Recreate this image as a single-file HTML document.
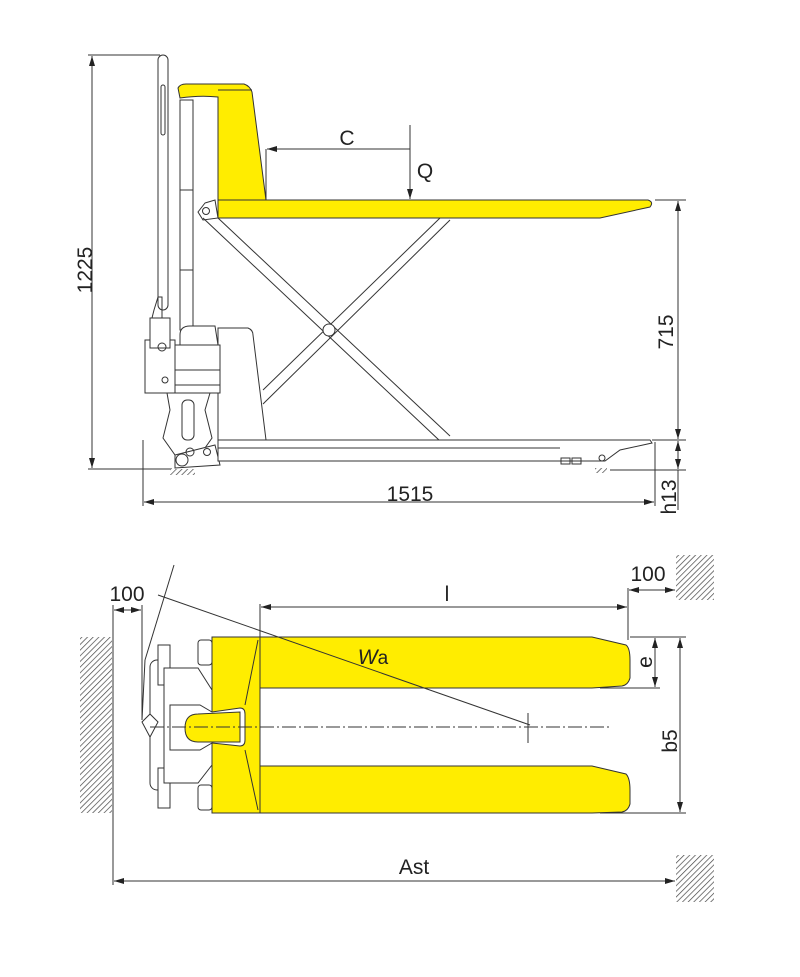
<!DOCTYPE html>
<html><head><meta charset="utf-8"><style>
html,body{margin:0;padding:0;background:#fff;}
svg{display:block;}
text{font-family:"Liberation Sans",sans-serif;fill:#222;}
</style></head><body>
<svg width="800" height="977" viewBox="0 0 800 977" xmlns="http://www.w3.org/2000/svg">
<defs>
<pattern id="h" width="4" height="4" patternUnits="userSpaceOnUse" patternTransform="rotate(45)">
<rect width="4" height="4" fill="#fff"/><line x1="0" y1="0" x2="0" y2="4" stroke="#444" stroke-width="1.4"/></pattern>
<marker id="a" viewBox="0 0 10 6" refX="10" refY="3" markerWidth="10" markerHeight="6" orient="auto-start-reverse" markerUnits="userSpaceOnUse"><path d="M0,0L10,3L0,6z" fill="#222"/></marker>
</defs>
<g stroke="#333" stroke-width="1" fill="none">
<line x1="88" y1="55" x2="160" y2="55"/>
<line x1="88" y1="469" x2="172" y2="469"/>
<line x1="92" y1="56" x2="92" y2="468" marker-start="url(#a)" marker-end="url(#a)"/>
<rect x="158" y="55" width="10" height="255" rx="5"/>
<rect x="161" y="85" width="4" height="50" rx="2"/>
<path d="M154,310 L158,297 L162,297 L162,318 L152,318 Z"/>
<rect x="180" y="100" width="13" height="90"/>
<rect x="180" y="190" width="13" height="80"/>
<rect x="180" y="270" width="13" height="60"/>
<path d="M178,88 Q180,84 186,84 L244,84 Q250,86 252,92 L266,200 L218,200 L218,97 Q200,95 180,98 Z" fill="#ffed00"/>
<line x1="218" y1="90" x2="252" y2="90"/>
<path d="M218,200 L648,200 Q654,202 650,207 L600,218 L218,218 Z" fill="#ffed00"/>
<path d="M205,203 L215,200 L218,218 L203,220 L198,212 Z" fill="#fff"/>
<circle cx="206" cy="211" r="3.5"/>
<line x1="203" y1="218" x2="440" y2="441"/>
<line x1="218" y1="218" x2="450" y2="436"/>
<line x1="263" y1="404" x2="450" y2="220"/>
<line x1="263" y1="390" x2="440" y2="218"/>
<circle cx="329" cy="330" r="6" fill="#fff"/>
<path d="M218,328 L248,328 Q253,330 253,335 L266,440 L218,440 Z" fill="#fff"/>
<path d="M180,335 Q180,326 190,326 L215,326 L218,345 L180,345 Z" fill="#fff"/>
<rect x="175" y="345" width="45" height="48" fill="#fff"/>
<line x1="175" y1="370" x2="220" y2="370"/>
<line x1="175" y1="385" x2="220" y2="385"/>
<rect x="145" y="340" width="30" height="53" fill="#fff"/>
<rect x="150" y="318" width="20" height="30" fill="#fff"/>
<circle cx="162" cy="347" r="4"/>
<circle cx="165" cy="380" r="3"/>
<path d="M167,393 L210,393 L205,410 L212,438 L200,455 L175,455 L163,438 L170,410 Z" fill="#fff"/>
<rect x="182" y="400" width="12" height="40" rx="5"/>
<path d="M175,455 L215,445 L220,465 L175,468 Z" fill="#fff"/>
<circle cx="182" cy="460" r="6" fill="#fff"/>
<circle cx="190" cy="452" r="4"/>
<circle cx="207" cy="452" r="3.5"/>
<rect x="170" y="469" width="25" height="6" fill="url(#h)" stroke="none"/>
<path d="M218,440 L650,440 L652,443 L620,450 L605,461 L218,461 Z" fill="#fff"/>
<line x1="218" y1="448" x2="560" y2="448"/>
<rect x="561" y="458" width="9" height="6"/>
<rect x="572" y="458" width="9" height="6"/>
<circle cx="602" cy="458" r="3"/>
<rect x="595" y="468" width="12" height="5" fill="url(#h)" stroke="none"/>
<line x1="266" y1="149" x2="266" y2="200"/>
<line x1="410" y1="149" x2="267" y2="149" marker-end="url(#a)"/>
<line x1="410" y1="125" x2="410" y2="199" marker-end="url(#a)"/>
<line x1="655" y1="200" x2="686" y2="200"/>
<line x1="652" y1="440" x2="686" y2="440"/>
<line x1="610" y1="470" x2="686" y2="470"/>
<line x1="678" y1="201" x2="678" y2="439" marker-start="url(#a)" marker-end="url(#a)"/>
<line x1="678" y1="441" x2="678" y2="469" marker-start="url(#a)" marker-end="url(#a)"/>
<line x1="678" y1="470" x2="678" y2="510"/>
<line x1="143" y1="440" x2="143" y2="506"/>
<line x1="655" y1="442" x2="655" y2="506"/>
<line x1="144" y1="502" x2="654" y2="502" marker-start="url(#a)" marker-end="url(#a)"/>

<rect x="80" y="637" width="32" height="176" fill="url(#h)" stroke="none"/>
<rect x="676" y="555" width="38" height="45" fill="url(#h)" stroke="none"/>
<rect x="676" y="855" width="38" height="47" fill="url(#h)" stroke="none"/>
<path d="M212,637 L592,637 L626,645 Q630,648 630,660 L630,678 Q628,685 622,686 L592,688 L260,688 L260,766 L592,766 L626,774 Q630,778 630,790 L630,804 Q628,811 622,812 L592,813 L212,813 Z" fill="#ffed00"/>
<line x1="260" y1="637" x2="260" y2="688"/>
<line x1="260" y1="766" x2="260" y2="813"/>
<path d="M258,640 L245,705 M245,750 L258,810"/>
<rect x="150" y="660" width="14" height="130" rx="7" fill="#fff"/>
<rect x="158" y="645" width="12" height="40" fill="#fff"/>
<rect x="158" y="768" width="12" height="40" fill="#fff"/>
<rect x="198" y="640" width="14" height="25" rx="3" fill="#fff"/>
<rect x="198" y="785" width="14" height="25" rx="3" fill="#fff"/>
<path d="M164,668 L198,668 L212,690 L212,765 L198,783 L164,783 Z" fill="#fff"/>
<path d="M170,705 L200,705 L212,712 L240,708 Q245,708 245,714 L245,740 Q245,746 240,746 L212,743 L200,750 L170,750 Z" fill="#fff"/>
<path d="M185,728 Q185,714 198,714 L240,712 L240,742 L198,742 Q185,742 185,728 Z" fill="#ffed00"/>
<path d="M142,722 L150,714 L158,722 L150,737 Z" fill="#fff"/>
<line x1="150" y1="727" x2="612" y2="727" stroke-dasharray="14,3,2,3"/>
<line x1="528" y1="713" x2="528" y2="743"/>
<line x1="158" y1="595" x2="530" y2="725"/>
<line x1="174" y1="565" x2="145" y2="660"/>
<line x1="145" y1="660" x2="142" y2="720"/>
<line x1="113" y1="605" x2="113" y2="885"/>
<line x1="142" y1="605" x2="142" y2="720"/>
<line x1="114" y1="610" x2="141" y2="610" marker-start="url(#a)" marker-end="url(#a)"/>
<line x1="260" y1="604" x2="260" y2="637"/>
<line x1="628" y1="588" x2="628" y2="640"/>
<line x1="261" y1="607" x2="627" y2="607" marker-start="url(#a)" marker-end="url(#a)"/>
<line x1="629" y1="590" x2="675" y2="590" marker-start="url(#a)" marker-end="url(#a)"/>
<line x1="630" y1="637" x2="686" y2="637"/>
<line x1="600" y1="688" x2="660" y2="688"/>
<line x1="600" y1="813" x2="686" y2="813"/>
<line x1="655" y1="638" x2="655" y2="687" marker-start="url(#a)" marker-end="url(#a)"/>
<line x1="680" y1="638" x2="680" y2="812" marker-start="url(#a)" marker-end="url(#a)"/>
<line x1="114" y1="881" x2="675" y2="881" marker-start="url(#a)" marker-end="url(#a)"/>
</g>
<g font-size="21">
<text transform="translate(92,270) rotate(-90)" text-anchor="middle">1225</text>
<text x="347" y="145" text-anchor="middle">C</text>
<text x="425" y="178" text-anchor="middle">Q</text>
<text transform="translate(673,332) rotate(-90)" text-anchor="middle">715</text>
<text transform="translate(676,497) rotate(-90)" text-anchor="middle">h13</text>
<text x="410" y="501" text-anchor="middle">1515</text>
<text x="127" y="601" text-anchor="middle">100</text>
<text x="648" y="581" text-anchor="middle">100</text>
<text x="447" y="601" text-anchor="middle">l</text>
<text x="373" y="664" text-anchor="middle" font-style="italic">W<tspan font-style="normal" font-size="19">a</tspan></text>
<text transform="translate(652,662) rotate(-90)" text-anchor="middle">e</text>
<text transform="translate(677,741) rotate(-90)" text-anchor="middle">b5</text>
<text x="414" y="874" text-anchor="middle">Ast</text>
</g>
</svg>
</body></html>
